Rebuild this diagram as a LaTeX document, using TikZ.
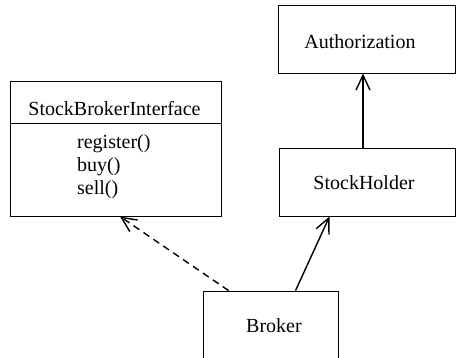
\documentclass[tikz,border=0pt]{standalone}
\usepackage{fontspec}
\setmainfont{Liberation Serif}
\usetikzlibrary{arrows.meta,calc}
\begin{document}
\begin{tikzpicture}[x=1pt,y=-1pt,
  box/.style={draw,line width=0.9pt,inner sep=0pt},
  lbl/.style={font=\fontsize{20}{24}\selectfont,inner sep=0pt,anchor=base},
  meth/.style={lbl,anchor=base west},
  assoc/.style={line width=1.4pt,-{Straight Barb[length=15pt,width=14pt,line width=1.4pt]}},
  realize/.style={assoc,dash pattern=on 7pt off 5pt}]
\useasboundingbox (0,0) rectangle (456,358);
\clip (0,0) rectangle (456,358);

% class boxes
\node[box,minimum width=177pt,minimum height=68pt] (auth) at (366.5,39) {};
\node[box,minimum width=176pt,minimum height=68pt] (sh) at (367,182) {};
\node[box,minimum width=211pt,minimum height=135pt] (sbi) at (115.5,148.5) {};
\node[box,minimum width=135pt,minimum height=78pt] (broker) at (270.5,330) {};

% class names
\node[lbl] (authname) at (360,49) {Authorization};
\node[lbl] (shname) at (364,190) {StockHolder};
\node[lbl] (sbiname) at (114.5,116) {StockBrokerInterface};
\node[lbl] (brokername) at (274,333) {Broker};

% interface compartment and operations
\coordinate (div) at (0,123);
\draw[line width=0.9pt] (sbi.west |- div) -- (sbi.east |- div);
\node[meth] (op1) at (77,149) {register()};
\node[meth] (op2) at (77,172) {buy()};
\node[meth] (op3) at (77,195) {sell()};

% relations
\coordinate (ax) at (363,0);
\draw[assoc] (sh.north -| ax) -- (auth.south -| ax);
\draw[assoc] ($(broker.north west)+(93,0)$) -- ($(sh.south west)+(51,0)$);
\draw[realize] ($(broker.north west)+(26,0)$) -- ($(sbi.south)+(4.5,0)$);
\end{tikzpicture}
\end{document}
